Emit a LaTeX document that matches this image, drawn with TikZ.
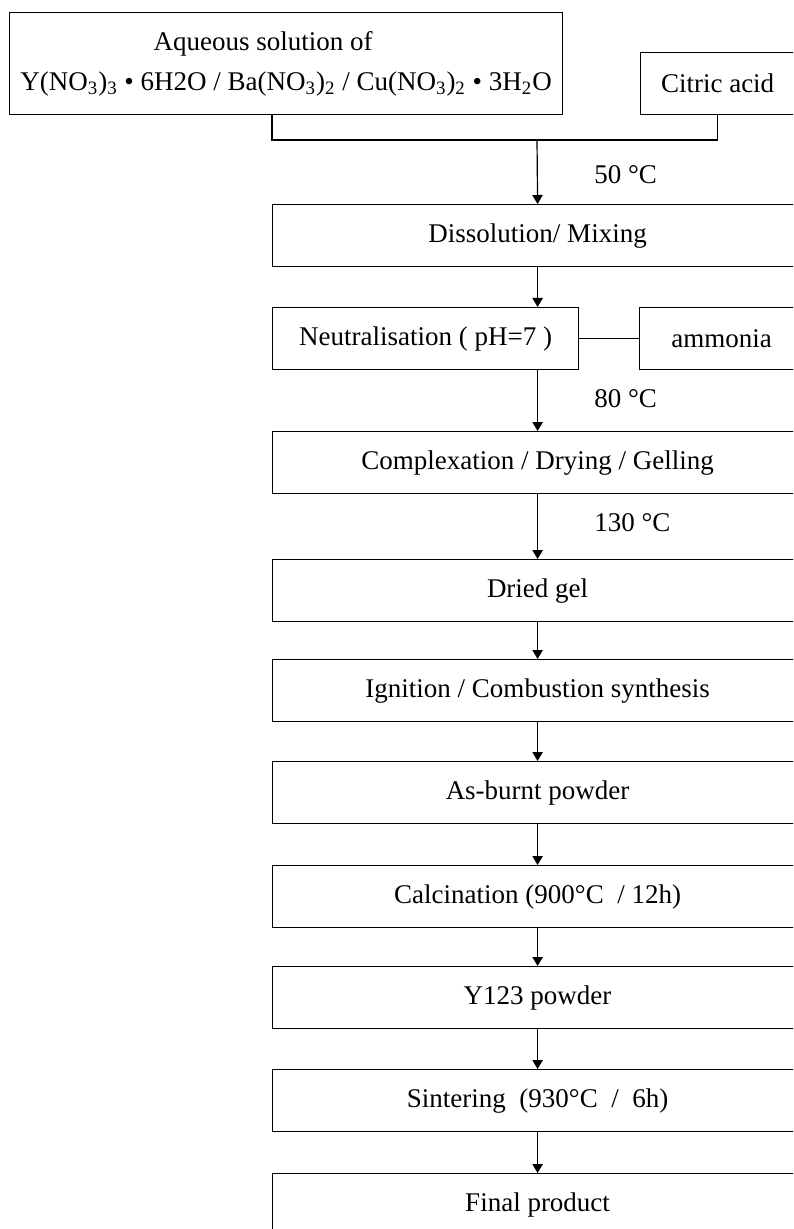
\documentclass[tikz,border=0pt]{standalone}
\usepackage{fontspec}
\setmainfont{Liberation Serif}
\usetikzlibrary{arrows.meta}
\usetikzlibrary{calc}

\tikzset{
  stepbox/.style={draw, line width=.6pt, anchor=north west, minimum height=31pt, inner sep=1pt, font=\fontsize{13.5}{16}\selectfont},
  widebox/.style={stepbox, minimum width=265pt},
  templabel/.style={anchor=west, inner sep=0pt, font=\fontsize{13.5}{16}\selectfont},
  flow/.style={line width=.6pt, -{Triangle[length=4.5pt,width=5.2pt]}},
}

\begin{document}
\begin{tikzpicture}[x=.5pt, y=-.5pt]
\useasboundingbox (0,0) rectangle (793,1229);
\clip (0,0) rectangle (793,1229);

% starting materials
\node[stepbox, minimum width=276.5pt, minimum height=51pt, align=center, font=\fontsize{13.5}{20}\selectfont] (nitrates) at (9,12)
  {Aqueous solution of\hspace*{23pt}\\
   Y(NO\textsubscript{3})\textsubscript{3} • 6H2O / Ba(NO\textsubscript{3})\textsubscript{2} / Cu(NO\textsubscript{3})\textsubscript{2} • 3H\textsubscript{2}O};
\node[stepbox, minimum width=77pt] (citric) at (640,52) {Citric acid};

% process steps
\node[widebox] (mix) at (272,204) {Dissolution/ Mixing};
\node[stepbox, minimum width=153pt] (neut) at (272,307) {Neutralisation ( pH=7 )};
\node[stepbox, minimum width=82pt] (ammonia) at (639,307) {ammonia};
\node[widebox] (gel) at (272,431) {Complexation / Drying / Gelling};
\node[widebox] (dried) at (272,559) {Dried gel};
\node[widebox] (ignition) at (272,659) {Ignition / Combustion synthesis};
\node[widebox] (burnt) at (272,761) {As-burnt powder};
\node[widebox] (calcine) at (272,865) {Calcination (900°C\ \ / 12h)};
\node[widebox] (ypowder) at (272,966) {Y123 powder};
\node[widebox] (sinter) at (272,1069) {Sintering\ \ (930°C\ \ /\ \ 6h)};
\node[widebox] (final) at (272,1173) {Final product};

% connectors
\coordinate (merge) at (537,140);
\draw[line width=.6pt] (nitrates.south -| mix.west) |- (merge) -| (citric.south);
\draw[flow] (merge) -- (mix.north);
\draw[line width=.6pt] (neut) -- (ammonia);
\foreach \a/\b in {mix/neut, neut/gel, gel/dried, dried/ignition, ignition/burnt, burnt/calcine, calcine/ypowder, ypowder/sinter, sinter/final}
  \draw[flow] (\a.south -| mix.north) -- (\b.north -| mix.north);

% temperatures
\node[templabel] (t50) at (594,175) {50 °C};
\node[templabel] (t80) at (594,399) {80 °C};
\node[templabel] (t130) at (594,523) {130 °C};
\end{tikzpicture}
\end{document}
